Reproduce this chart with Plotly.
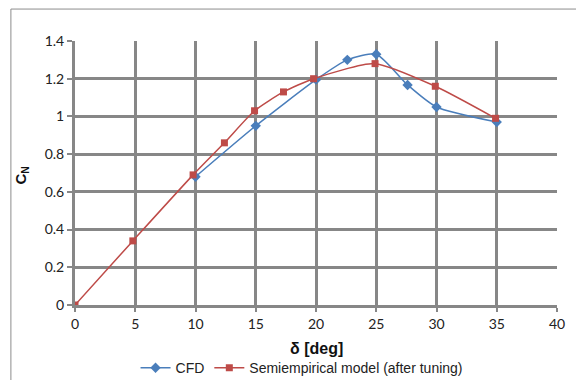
import plotly.graph_objects as go

cfd_x = [10, 15, 20, 22.6, 25, 27.6, 30, 35]
cfd_y = [0.68, 0.95, 1.195, 1.30, 1.33, 1.167, 1.05, 0.97]
semi_x = [0, 4.8, 9.8, 12.4, 14.9, 17.3, 19.8, 24.9, 29.9, 34.9]
semi_y = [0.0, 0.34, 0.69, 0.86, 1.03, 1.13, 1.20, 1.28, 1.16, 0.99]
x_ticks = [0, 5, 10, 15, 20, 25, 30, 35, 40]
y_ticks = [0, 0.2, 0.4, 0.6, 0.8, 1, 1.2, 1.4]
y_labels = ["0", "0.2", "0.4", "0.6", "0.8", "1", "1.2", "1.4"]

blue = "#4a7ebb"
red = "#be4b48"
grid = "#878787"

fig = go.Figure()
fig.add_trace(go.Scatter(
    x=cfd_x, y=cfd_y, name="CFD", mode="lines+markers",
    line=dict(color=blue, width=1.5, shape="spline", smoothing=0.6),
    marker=dict(symbol="diamond", size=8, color=blue),
))
fig.add_trace(go.Scatter(
    x=semi_x, y=semi_y, name="Semiempirical model (after tuning)", mode="lines+markers",
    line=dict(color=red, width=1.5, shape="spline", smoothing=0.6),
    marker=dict(symbol="square", size=7, color=red),
))

fig.update_layout(
    width=576, height=380,
    margin=dict(l=75, r=19, t=41, b=75, autoexpand=False),
    paper_bgcolor="white", plot_bgcolor="white",
    font=dict(family="Lato, Open Sans, sans-serif", size=14, color="#222"),
    showlegend=True,
    legend=dict(orientation="h", x=0.47, xanchor="center", y=-0.239, yanchor="middle",
                font=dict(family="Liberation Sans, Arial", size=14, color="#222"),
                itemwidth=30, tracegroupgap=0, bgcolor="rgba(0,0,0,0)"),
    xaxis=dict(range=[0, 40], tickvals=x_ticks, showgrid=True, gridcolor=grid, gridwidth=3,
               showline=True, linecolor=grid, linewidth=3, ticks="outside", ticklen=4,
               tickcolor=grid, tickwidth=2, zeroline=False, fixedrange=True),
    yaxis=dict(range=[0, 1.4], tickvals=y_ticks, ticktext=y_labels, showgrid=True,
               gridcolor=grid, gridwidth=3, showline=True, linecolor=grid, linewidth=3,
               ticks="outside", ticklen=5, tickcolor=grid, tickwidth=2, zeroline=False,
               mirror=False),
    annotations=[
        dict(text="<b>δ [deg]</b>", xref="paper", yref="paper", x=0.5, y=-0.163,
             xanchor="center", yanchor="middle", showarrow=False,
             font=dict(family="Liberation Sans, Arial", size=16, color="#111")),
        dict(text="<b>C<sub>N</sub></b>", xref="paper", yref="paper", x=-0.11, y=0.49,
             xanchor="center", yanchor="middle", showarrow=False, textangle=-90,
             font=dict(family="Liberation Sans, Arial", size=15, color="#111")),
    ],
    shapes=[
        dict(type="rect", xref="paper", yref="paper", x0=-0.133, x1=1.3, y0=-0.6, y1=1.121,
             line=dict(color="#8c8c8c", width=1), fillcolor="rgba(0,0,0,0)", layer="below"),
    ],
)

fig.write_html("out.html", config={"displayModeBar": False},
               post_script="document.body.style.margin='0';document.body.style.overflow='hidden';")
